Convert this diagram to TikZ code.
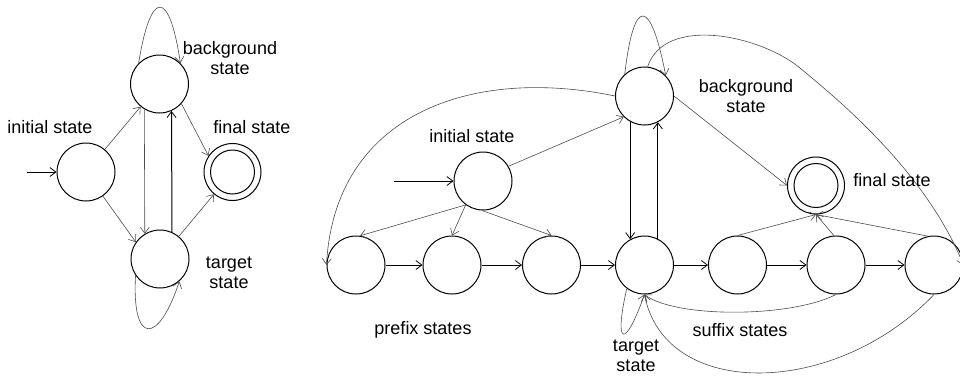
\documentclass[tikz,border=0pt]{standalone}
\usepackage{fontspec}
\setmainfont{Liberation Sans}
\usetikzlibrary{arrows.meta}
\begin{document}
\begin{tikzpicture}[x=1pt,y=-1pt,
  st/.style={circle,draw,line width=1pt,minimum size=58pt,inner sep=0pt},
  fin/.style={circle,draw,line width=1pt,minimum size=57pt,inner sep=0pt},
  fini/.style={circle,draw,line width=1pt,minimum size=44pt,inner sep=0pt},
  lbl/.style={font=\fontsize{18}{20}\selectfont,align=center,inner sep=0pt},
  ed/.style={-{Straight Barb[length=6pt,width=9pt,line width=0.6pt]},draw=black!70,line width=0.6pt},
  edb/.style={-{Straight Barb[length=6pt,width=9pt,line width=0.8pt]},draw=black,line width=1pt},
]
\useasboundingbox (0,0) rectangle (960,376);
% ---------- left automaton ----------
\node[st] (inL) at (86,172) {};
\node[st] (bgL) at (159.5,84) {};
\node[st] (tgL) at (160,259) {};
\node[fin] (fnL) at (232.5,172) {};
\node[fini] (fniL) at (232.5,172) {};
\coordinate (sL) at (27,172);
\draw[edb] (sL) -- (inL);
\draw[ed] (inL) -- (bgL);
\draw[ed] (inL.-55) -- (tgL.145);
\draw[ed] (bgL.-121) -- (tgL.121);
\draw[edb] (tgL.66) -- (bgL.-66);
\draw[ed] (bgL.-42) -- (fnL.146);
\draw[ed] (tgL) -- (fnL);
\draw[ed] (bgL.135) .. controls +(12,-74.5) and +(-11,-74.5) .. (bgL.45);
\draw[ed] (tgL.214) .. controls +(-4,70) and +(-21,64) .. (tgL.311);
\node[lbl] (lInL) at (50,127) {initial state};
\node[lbl] (lBgL) at (230,58) {background\\state};
\node[lbl] (lFnL) at (252,127) {final state};
\node[lbl] (lTgL) at (229,273) {target\\state};
% ---------- right automaton ----------
\node[st] (in) at (483,181) {};
\node[st] (bg) at (644.5,96) {};
\node[fin] (fn) at (816,185.5) {};
\node[fini] (fni) at (816,185.5) {};
\node[st] (p1) at (356,265) {};
\node[st] (p2) at (452,265) {};
\node[st] (p3) at (551.5,265) {};
\node[st] (tg) at (644.5,265) {};
\node[st] (s1) at (737.5,265) {};
\node[st] (s2) at (836,265) {};
\node[st] (s3) at (934,265) {};
\coordinate (sR) at (394,181);
\coordinate (arcTop) at (800,68);
\draw[edb] (sR) -- (in);
\draw[ed] (in.30) -- (bg.225);
\draw[ed] (in.234) -- (p1.82);
\draw[ed] (in.234) -- (p2.north);
\draw[ed] (in.268) -- (p3.north);
\draw[edb] (p1) -- (p2);
\draw[edb] (p2) -- (p3);
\draw[edb] (p3) -- (tg);
\draw[edb] (tg) -- (s1);
\draw[edb] (s1) -- (s2);
\draw[edb] (s2) -- (s3);
\draw[edb] (bg.-119) -- (tg.119);
\draw[edb] (tg.63) -- (bg.-63);
\draw[ed] (bg.east) -- (fn.west);
\draw[ed] (s1.north) -- (fn.south);
\draw[ed] (s2.94) -- (fn.south);
\draw[ed] (s3.102) -- (fn.south);
\draw[ed] (bg.132) .. controls +(9,-77.5) and +(-15.4,-79) .. (bg.44);
\draw[ed] (tg.233) .. controls +(-13,57) and +(-20,56) .. (tg.-90);
\draw[ed] (bg.west) .. controls +(-145,-30) and +(8,-150) .. (p1.west);
\draw[ed] (bg.84) .. controls (665,15) and (760,35) .. (arcTop)
                   .. controls (836,98) and (925,170) .. (s3.east);
\draw[ed] (s2.south) .. controls (790,318) and (675,318) .. (tg.south);
\draw[ed] (s3.south) .. controls (835,398) and (665,400) .. (tg.south);
\node[lbl] (lIn) at (472,136) {initial state};
\node[lbl] (lBg) at (746,96) {background\\state};
\node[lbl] (lFn) at (892,180) {final state};
\node[lbl] (lTg) at (636,356) {target\\state};
\node[lbl] (lPre) at (423,330) {prefix states};
\node[lbl] (lSuf) at (740,330) {suffix states};
\end{tikzpicture}
\end{document}
